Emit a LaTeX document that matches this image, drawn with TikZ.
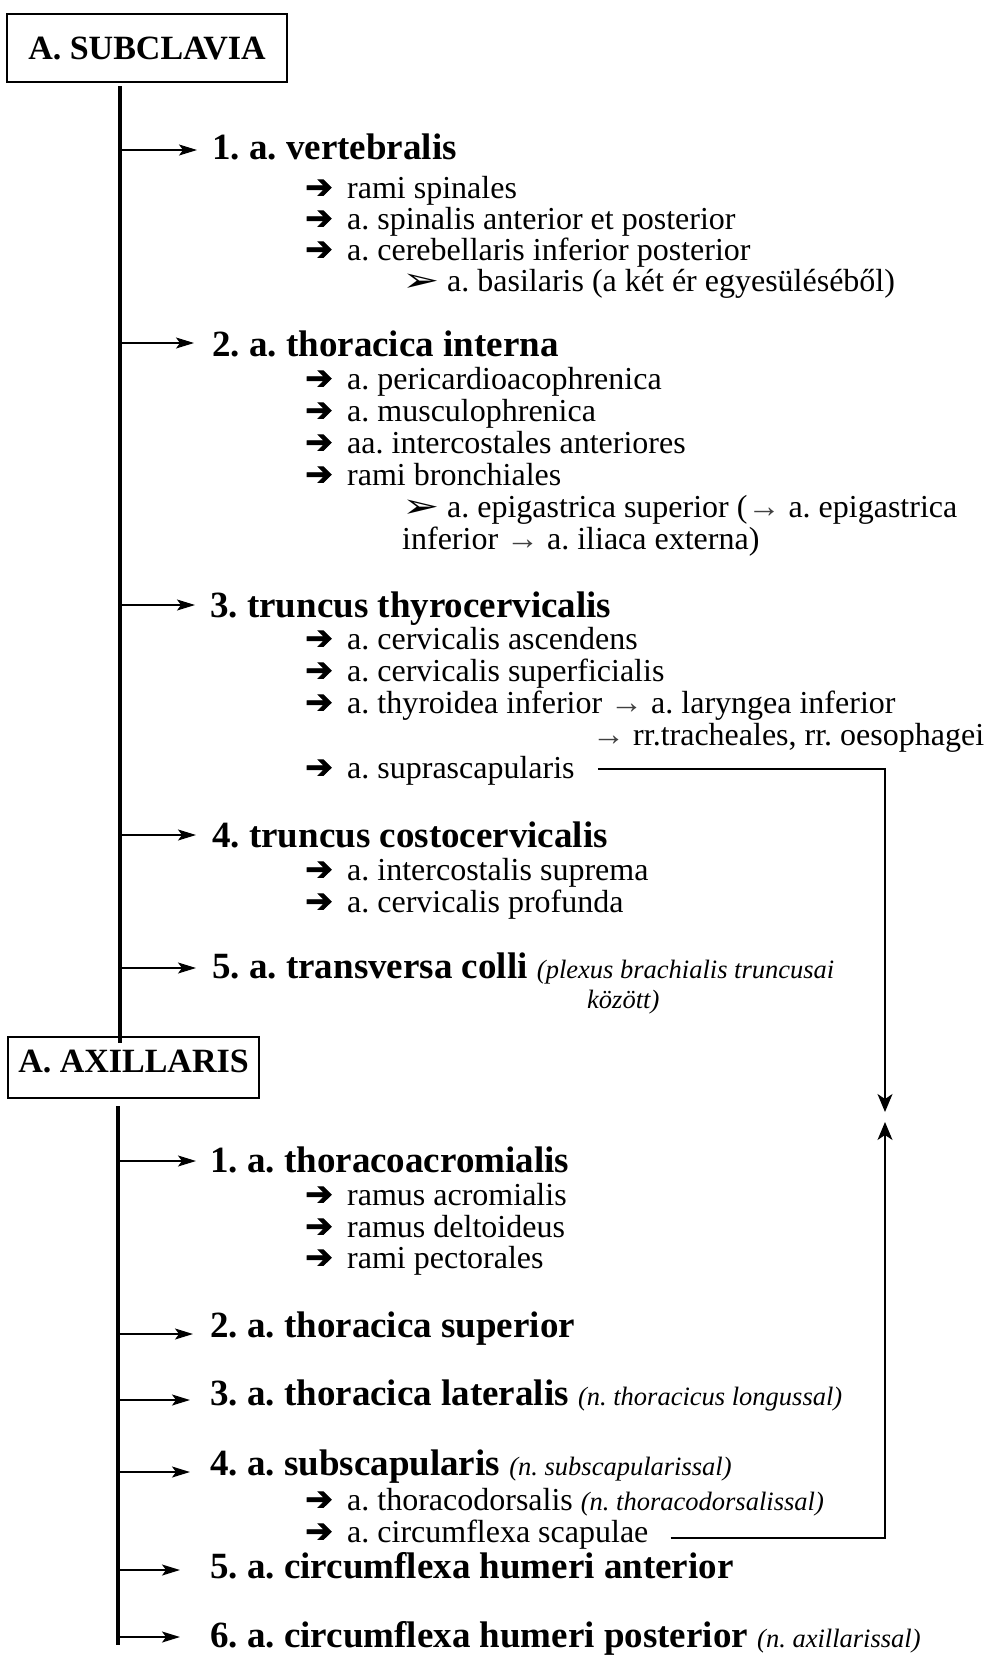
\documentclass[tikz,border=0pt]{standalone}
\usepackage{fontspec}
\setmainfont{Liberation Serif}
\newfontfamily\djv{DejaVu Sans}
\newfontfamily\djvb{DejaVu Sans Bold}[FakeBold=2.5]
\usetikzlibrary{arrows.meta}
\frenchspacing
\newcommand\harr{\makebox[42pt][l]{\djvb\fontsize{33}{33}\selectfont ➔}}
\newcommand\tarr{\makebox[45pt][l]{\djv\fontsize{33}{33}\selectfont\scalebox{1.35}[1]{➢}}}
\newcommand\garr{{\color{black!75}\fontsize{33}{33}\selectfont→}}
\newcommand\nt[1]{{\fontsize{26.5}{26.5}\selectfont\mdseries\itshape #1}}
\begin{document}
\begin{tikzpicture}[x=1pt,y=-1pt,
  box/.style={draw, line width=1.6pt, inner sep=0pt, font=\fontsize{34}{34}\selectfont\bfseries},
  head/.style={anchor=base west, inner sep=0pt, font=\fontsize{37}{37}\selectfont\bfseries},
  item/.style={anchor=base west, inner sep=0pt, font=\fontsize{32}{32}\selectfont},
  trunk/.style={line width=4.5pt},
  harrow/.style={line width=1.3pt, -{Stealth[length=18pt,width=11pt,inset=4pt]}},
  conn/.style={line width=1.2pt, -{Stealth[length=18pt,width=15pt,inset=5pt]}}]
\useasboundingbox (0,0) rectangle (987,1655);

% boxes
\node[box, minimum width=280pt, minimum height=68pt] (sub) at (147,48) {A. SUBCLAVIA};
\node[box, minimum width=251pt, text height=35pt, text depth=26pt] (axi) at (133.5,1067.5) {A. AXILLARIS};

% trunks
\coordinate (t1a) at (120,86);
\coordinate (t1b) at (120,1043);
\coordinate (t2a) at (118,1106);
\coordinate (t2b) at (118,1645);
\draw[trunk] (t1a) -- (t1b);
\draw[trunk] (t2a) -- (t2b);

% subclavia headings
\node[head] (s1) at (212,159) {1. a. vertebralis};
\node[head] (s2) at (212,356) {2. a. thoracica interna};
\node[head] (s3) at (210,617) {3. truncus thyrocervicalis};
\node[head] (s4) at (212,847) {4. truncus costocervicalis};
\node[head] (s5) at (212,978) {5. a. transversa colli \nt{(plexus brachialis truncusai}};
\node[item] (s5b) at (587,1008) {\nt{között)}};

\coordinate (s1o) at (122,150);
\coordinate (s2o) at (122,343);
\coordinate (s3o) at (122,605);
\coordinate (s4o) at (122,835);
\coordinate (s5o) at (122,968);
\draw[harrow, shorten >=15pt] (s1o) -- (s1o -| s1.west);
\draw[harrow, shorten >=18pt] (s2o) -- (s2o -| s2.west);
\draw[harrow, shorten >=15pt] (s3o) -- (s3o -| s3.west);
\draw[harrow, shorten >=16pt] (s4o) -- (s4o -| s4.west);
\draw[harrow, shorten >=16pt] (s5o) -- (s5o -| s5.west);

% 1. vertebralis
\node[item] (s1i1) at (305,198) {\harr rami spinales};
\node[item] (s1i2) at (305,229) {\harr a. spinalis anterior et posterior};
\node[item] (s1i3) at (305,260) {\harr a. cerebellaris inferior posterior};
\node[item] (s1i4) at (402,291) {\tarr a. basilaris (a két ér egyesüléséből)};

% 2. thoracica interna
\node[item] (s2i1) at (305,389) {\harr a. pericardioacophrenica};
\node[item] (s2i2) at (305,421) {\harr a. musculophrenica};
\node[item] (s2i3) at (305,453) {\harr aa. intercostales anteriores};
\node[item] (s2i4) at (305,485) {\harr rami bronchiales};
\node[item] (s2i5) at (402,517) {\tarr a. epigastrica superior (\garr\ a. epigastrica};
\node[item] (s2i6) at (402,549) {inferior \garr\ a. iliaca externa)};

% 3. thyrocervicalis
\node[item] (s3i1) at (305,649) {\harr a. cervicalis ascendens};
\node[item] (s3i2) at (305,681) {\harr a. cervicalis superficialis};
\node[item] (s3i3) at (305,713) {\harr a. thyroidea inferior \garr\ a. laryngea inferior};
\node[item] (s3i4) at (592,745) {\garr\ rr.tracheales, rr. oesophagei};
\node[item] (supra) at (305,778) {\harr a. suprascapularis};

% 4. costocervicalis
\node[item] (s4i1) at (305,880) {\harr a. intercostalis suprema};
\node[item] (s4i2) at (305,912) {\harr a. cervicalis profunda};

% axillaris headings
\node[head] (a1) at (210,1172) {1. a. thoracoacromialis};
\node[head] (a2) at (210,1337) {2. a. thoracica superior};
\node[head] (a3) at (210,1405) {3. a. thoracica lateralis \nt{(n. thoracicus longussal)}};
\node[head] (a4) at (210,1475) {4. a. subscapularis \nt{(n. subscapularissal)}};
\node[head] (a5) at (210,1578) {5. a. circumflexa humeri anterior};
\node[head] (a6) at (210,1647) {6. a. circumflexa humeri posterior \nt{(n. axillarissal)}};

\coordinate (a1o) at (120,1161);
\coordinate (a2o) at (120,1334);
\coordinate (a3o) at (120,1400);
\coordinate (a4o) at (120,1472);
\coordinate (a5o) at (120,1570);
\coordinate (a6o) at (120,1637);
\draw[harrow, shorten >=14pt] (a1o) -- (a1o -| a1.west);
\draw[harrow, shorten >=17pt] (a2o) -- (a2o -| a2.west);
\draw[harrow, shorten >=20pt] (a3o) -- (a3o -| a3.west);
\draw[harrow, shorten >=20pt] (a4o) -- (a4o -| a4.west);
\draw[harrow, shorten >=30pt] (a5o) -- (a5o -| a5.west);
\draw[harrow, shorten >=30pt] (a6o) -- (a6o -| a6.west);

\node[item] (a1i1) at (305,1205) {\harr ramus acromialis};
\node[item] (a1i2) at (305,1237) {\harr ramus deltoideus};
\node[item] (a1i3) at (305,1268) {\harr rami pectorales};
\node[item] (a4i1) at (305,1510) {\harr a. thoracodorsalis \nt{(n. thoracodorsalissal)}};
\node[item] (scap) at (305,1542) {\harr a. circumflexa scapulae};

% right connectors
\coordinate (d1) at (885,1112);
\coordinate (d2) at (885,1122);
\draw[conn] ([shift={(23pt,9pt)}]supra.base east) -| (d1);
\draw[conn] ([shift={(22pt,4pt)}]scap.base east) -| (d2);
\end{tikzpicture}
\end{document}
